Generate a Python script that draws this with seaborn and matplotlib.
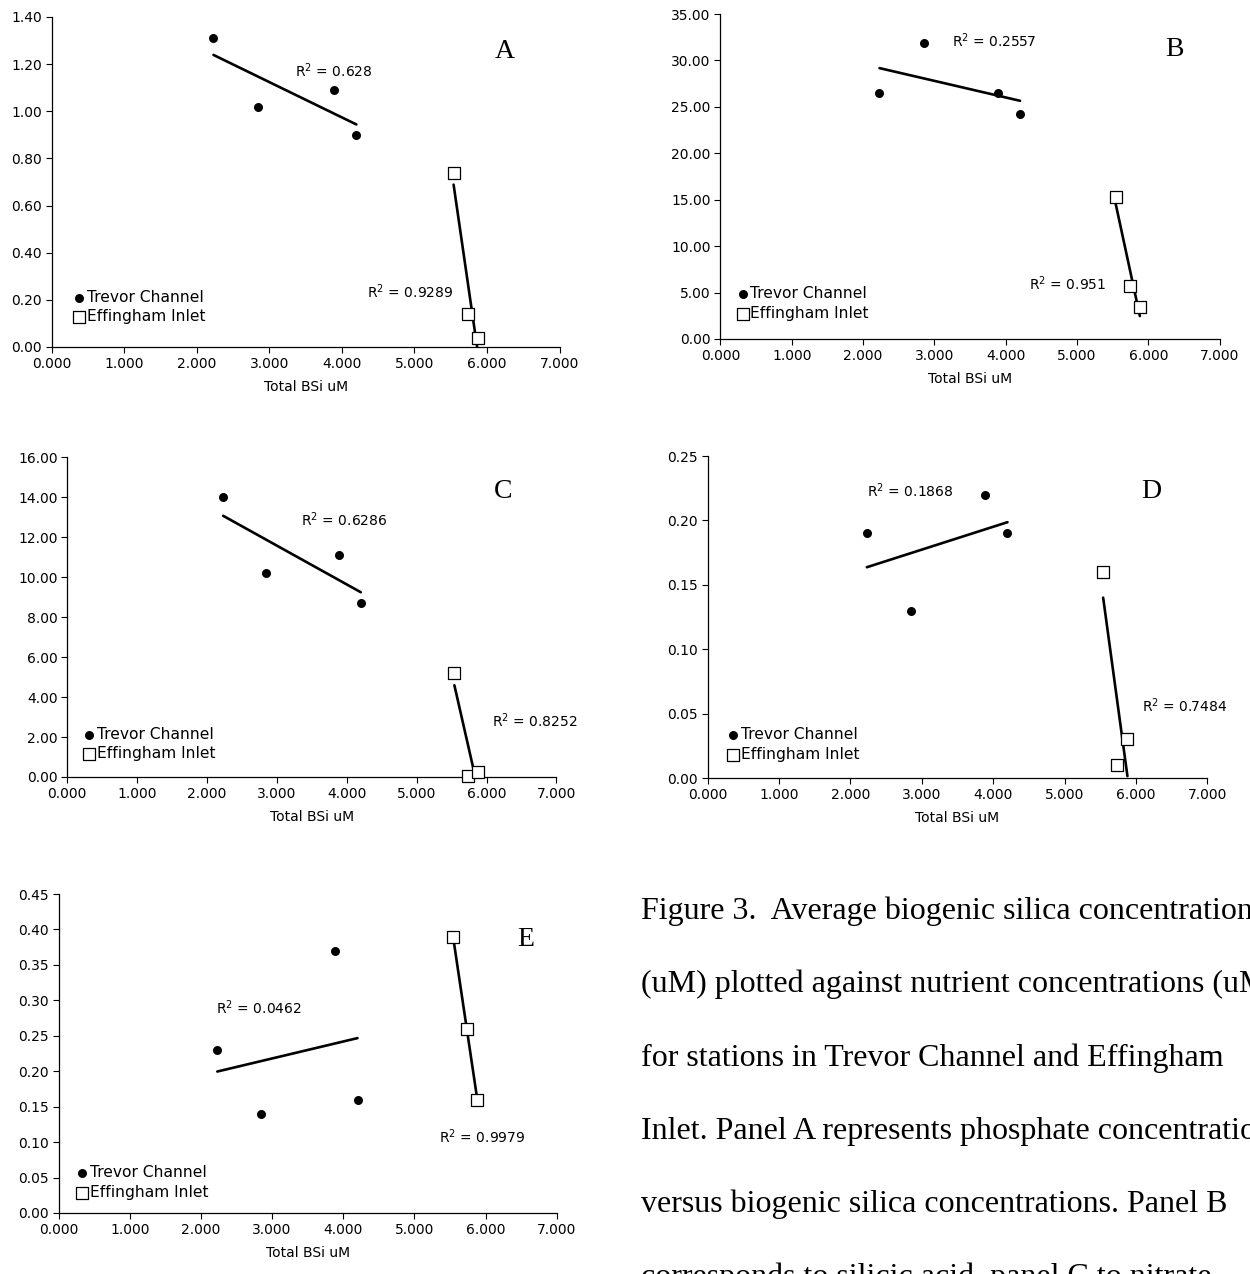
import numpy as np
import seaborn as sns
import matplotlib.pyplot as plt
from matplotlib.ticker import FormatStrFormatter

# Total BSi (uM) per station
trevor_bsi = [2.23, 2.85, 3.89, 4.20]
effingham_bsi = [5.54, 5.74, 5.88]

# nutrient values per panel (A..E)
a_trevor = [1.31, 1.02, 1.09, 0.90]
a_effingham = [0.74, 0.14, 0.04]
b_trevor = [26.5, 31.9, 26.5, 24.2]
b_effingham = [15.3, 5.7, 3.5]
c_trevor = [14.0, 10.2, 11.1, 8.7]
c_effingham = [5.2, 0.03, 0.25]
d_trevor = [0.19, 0.13, 0.22, 0.19]
d_effingham = [0.16, 0.01, 0.03]
e_trevor = [0.23, 0.14, 0.37, 0.16]
e_effingham = [0.39, 0.26, 0.16]

r2_trevor = ['0.628', '0.2557', '0.6286', '0.1868', '0.0462']
r2_effingham = ['0.9289', '0.951', '0.8252', '0.7484', '0.9979']
panel_tags = ['A', 'B', 'C', 'D', 'E']
y_max = [1.4, 35, 16, 0.25, 0.45]
y_step = [0.2, 5, 2, 0.05, 0.05]

caption = [
    'Figure 3.  Average biogenic silica concentrations',
    '(uM) plotted against nutrient concentrations (uM)',
    'for stations in Trevor Channel and Effingham',
    'Inlet. Panel A represents phosphate concentrations',
    'versus biogenic silica concentrations. Panel B',
    'corresponds to silicic acid, panel C to nitrate,',
]

W, H = 1250, 1274


def px_rect(l, r, t, b):
    return [l / W, 1 - b / H, (r - l) / W, (b - t) / H]


# layout: axes box in pixels, label positions in data coords, legend anchor in axes fraction
layout = [
    dict(rect=px_rect(51.7, 559.5, 17, 347), r2t=(3.35, 1.174), r2e=(4.34, 0.233), tag=(6.24, 1.252), leg=(0.042, 0.121)),
    dict(rect=px_rect(720.4, 1219.8, 14, 339), r2t=(3.25, 32.1), r2e=(4.32, 6.0), tag=(6.36, 31.2), leg=(0.032, 0.109)),
    dict(rect=px_rect(67.3, 556.4, 457, 777), r2t=(3.34, 12.87), r2e=(6.08, 2.82), tag=(6.24, 14.28), leg=(0.032, 0.103)),
    dict(rect=px_rect(707.6, 1207.4, 456, 778), r2t=(2.23, 0.2228), r2e=(6.09, 0.0565), tag=(6.22, 0.2223), leg=(0.039, 0.104)),
    dict(rect=px_rect(58.6, 556.8, 894, 1213), r2t=(2.215, 0.289), r2e=(5.34, 0.107), tag=(6.57, 0.386), leg=(0.035, 0.096)),
]

sns.set_style('ticks')
plt.rcParams['font.family'] = ['DejaVu Sans']
plt.rcParams['axes.linewidth'] = 0.9
plt.rcParams['text.color'] = 'black'
plt.rcParams['axes.labelcolor'] = 'black'
plt.rcParams['axes.edgecolor'] = 'black'

fig = plt.figure(figsize=(W / 100, H / 100), dpi=100)

series = [(a_trevor, a_effingham), (b_trevor, b_effingham), (c_trevor, c_effingham),
          (d_trevor, d_effingham), (e_trevor, e_effingham)]

for i, (ty, ey) in enumerate(series):
    lay = layout[i]
    ax = fig.add_axes(lay['rect'])

    sns.regplot(x=trevor_bsi, y=ty, ax=ax, scatter=False, ci=None, truncate=True,
                color='black', line_kws=dict(lw=1.9))
    sns.regplot(x=effingham_bsi, y=ey, ax=ax, scatter=False, ci=None, truncate=True,
                color='black', line_kws=dict(lw=1.9))
    sns.scatterplot(x=trevor_bsi, y=ty, ax=ax, marker='o', s=42, color='black',
                    edgecolor='black', linewidth=0, label='Trevor Channel', zorder=3, clip_on=False)
    sns.scatterplot(x=effingham_bsi, y=ey, ax=ax, marker='s', s=72, color='white',
                    edgecolor='black', linewidth=0.9, label='Effingham Inlet', zorder=3, clip_on=False)

    ax.set_xlim(0, 7)
    ax.set_ylim(0, y_max[i])
    ax.set_xticks(np.arange(0, 7.5, 1))
    ax.set_yticks(np.arange(0, y_max[i] + y_step[i] / 2, y_step[i]))
    ax.xaxis.set_major_formatter(FormatStrFormatter('%.3f'))
    ax.yaxis.set_major_formatter(FormatStrFormatter('%.2f'))
    sns.despine(ax=ax)
    ax.tick_params(direction='out', length=4, width=0.8, labelsize=10, pad=3, colors='black')
    ax.set_xlabel('Total BSi uM', fontsize=10, labelpad=7)
    ax.set_ylabel('')

    ax.text(*lay['r2t'], 'R$^2$ = ' + r2_trevor[i], fontsize=10, ha='left', va='center')
    ax.text(*lay['r2e'], 'R$^2$ = ' + r2_effingham[i], fontsize=10, ha='left', va='center')
    ax.text(*lay['tag'], panel_tags[i], fontsize=20, family='Liberation Serif', ha='center', va='center')

    ax.legend(loc='center left', bbox_to_anchor=lay['leg'], frameon=False, fontsize=11.2,
              handlelength=0.8, handletextpad=0.1, labelspacing=0.3, borderpad=0, borderaxespad=0)

# caption runs past the page edge, as in the source figure
for j, line in enumerate(caption):
    baseline = 919 + 73.3 * j
    fig.text(641 / W, 1 - baseline / H, line, fontsize=23, family='Liberation Serif',
             ha='left', va='baseline')

fig.savefig('out.png', dpi=100)
